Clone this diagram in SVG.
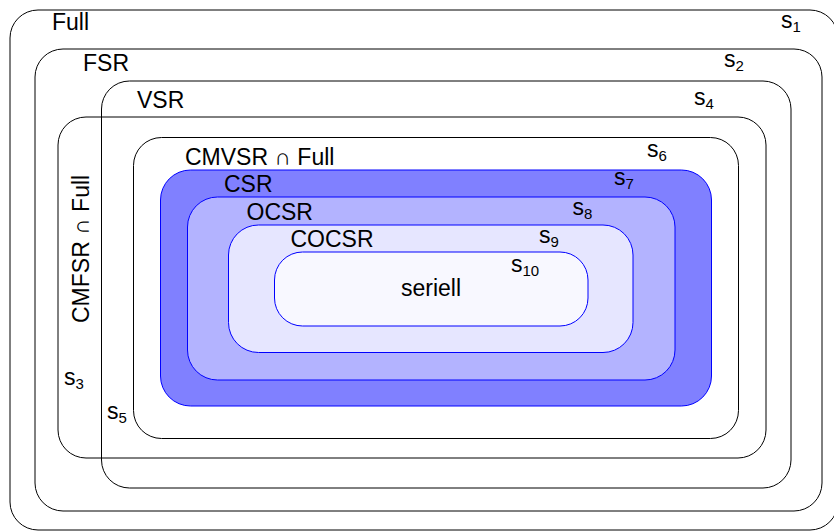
<svg xmlns="http://www.w3.org/2000/svg" width="834" height="532" viewBox="0 0 834 532">
<style>
.o{fill:none;stroke:#000;stroke-width:1}
.b{stroke:#0000ff;stroke-width:1}
text{font-family:"Liberation Sans",Arial,sans-serif;font-size:23px;fill:#000}
.sub{font-size:15px}
</style>
<rect width="834" height="532" fill="#fff"/>
<g id="Full">
<rect class="o" x="10" y="10" width="828" height="520" rx="28"/>
<text x="52" y="30">Full</text>
<text x="781" y="28">s<tspan class="sub" dy="4">1</tspan></text>
</g>
<g id="FSR">
<rect class="o" x="35" y="49" width="787" height="462" rx="28"/>
<text x="83" y="70.5">FSR</text>
<text x="724" y="67">s<tspan class="sub" dy="4">2</tspan></text>
</g>
<g id="VSR">
<rect class="o" x="101.5" y="81" width="689.5" height="407" rx="28"/>
<text x="137" y="108">VSR</text>
<text x="694" y="105">s<tspan class="sub" dy="4">4</tspan></text>
</g>
<g id="CMFSR_Full">
<rect class="o" x="58" y="117" width="708" height="341" rx="28"/>
<text transform="translate(89,323) rotate(-90)">CMFSR ∩ Full</text>
<text x="64" y="385">s<tspan class="sub" dy="4">3</tspan></text>
</g>
<g id="CMVSR_Full">
<rect class="o" x="133.5" y="137.5" width="605" height="301" rx="28"/>
<text x="185" y="165">CMVSR ∩ Full</text>
<text x="647" y="157">s<tspan class="sub" dy="4">6</tspan></text>
<text x="107" y="419">s<tspan class="sub" dy="4">5</tspan></text>
</g>
<g id="CSR">
<rect class="b" fill="#8080ff" x="160.5" y="170" width="551" height="236" rx="30"/>
<text x="224" y="191.5">CSR</text>
<text x="614" y="185">s<tspan class="sub" dy="4">7</tspan></text>
</g>
<g id="OCSR">
<rect class="b" fill="#b3b3ff" x="187.5" y="197" width="487.5" height="183" rx="30"/>
<text x="246.5" y="220">OCSR</text>
<text x="572.5" y="215">s<tspan class="sub" dy="4">8</tspan></text>
</g>
<g id="COCSR">
<rect class="b" fill="#e6e6ff" x="228.5" y="225" width="404.5" height="127.5" rx="30"/>
<text x="290.5" y="246.5">COCSR</text>
<text x="539" y="243">s<tspan class="sub" dy="4">9</tspan></text>
</g>
<g id="seriell">
<rect class="b" fill="#f8f8ff" x="274.5" y="252" width="313.5" height="74" rx="28"/>
<text x="431" y="296" text-anchor="middle">seriell</text>
<text x="511" y="271.5">s<tspan class="sub" dy="4">10</tspan></text>
</g>
<g id="connectors"/>
</svg>
